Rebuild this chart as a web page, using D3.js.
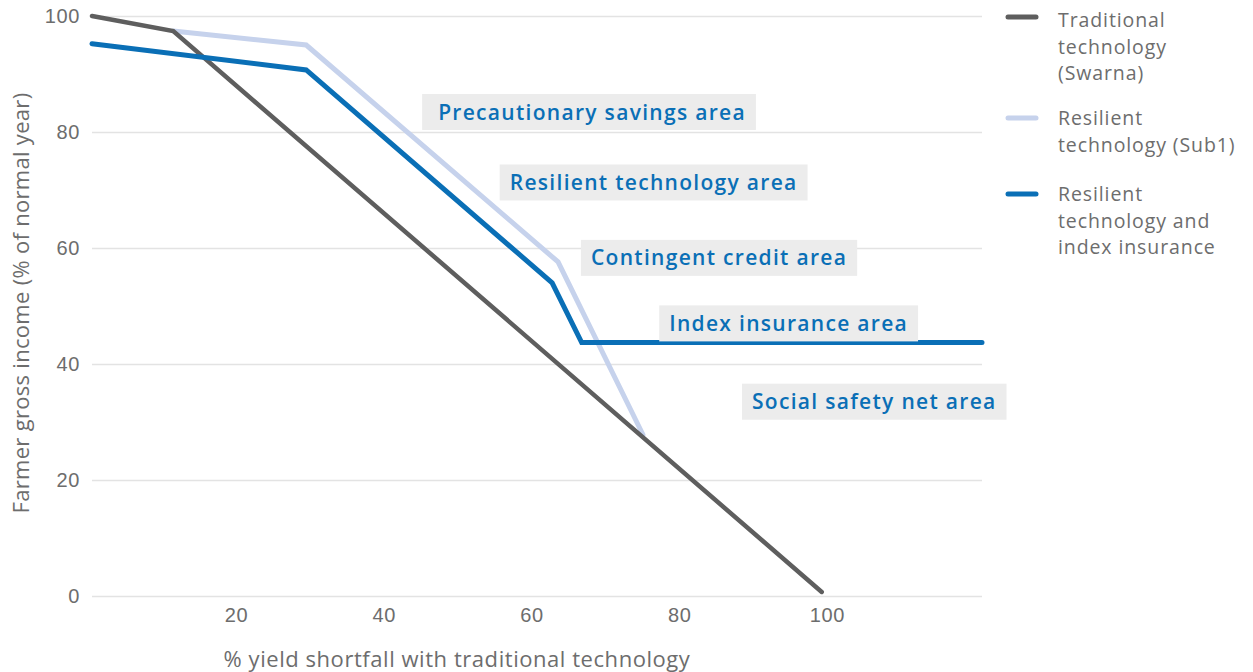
<!DOCTYPE html>
<html>
<head>
<meta charset="utf-8">
<script src="https://cdn.jsdelivr.net/npm/d3@7"></script>
<style>
  body { margin: 0; background: #fff; }
  svg { display: block; font-family: "Open Sans", sans-serif; }
</style>
</head>
<body>
<svg id="chart" width="1253" height="672"></svg>
<script>
// ---- data ----
const xTicks = [20, 40, 60, 80, 100];
const yTicks = [0, 20, 40, 60, 80, 100];

const traditionalX = [0.5, 11.5, 99.3];
const traditionalY = [100, 97.4, 0.7];

const sub1X = [11.5, 29.5, 63.6, 75.1];
const sub1Y = [97.4, 95.0, 57.6, 27.8];

const insuranceX = [0.5, 29.5, 62.8, 66.8, 121];
const insuranceY = [95.2, 90.7, 54.0, 43.7, 43.7];

const seriesNames = ["Traditional technology (Swarna)", "Resilient technology (Sub1)", "Resilient technology and index insurance"];
const legendLines = [["Traditional", "technology", "(Swarna)"], ["Resilient", "technology (Sub1)"], ["Resilient", "technology and", "index insurance"]];

const areaLabels = ["Precautionary savings area", "Resilient technology area", "Contingent credit area", "Index insurance area", "Social safety net area"];
const areaLabelX = [45.2, 55.7, 66.7, 77.3, 88.5];   // label box left (data units)
const areaLabelY = [83.45, 71.3, 58.3, 47.0, 33.5];  // label center (data units)

const xTitle = "% yield shortfall with traditional technology";
const yTitle = "Farmer gross income (% of normal year)";

// ---- layout ----
const svg = d3.select("#chart");
const x = d3.scaleLinear().domain([0.5, 121]).range([92, 982]);
const y = d3.scaleLinear().domain([0, 100]).range([596, 16]);

const gray = "#6d6d6d";
const colors = ["#5e5e5e", "#c6d2ec", "#0a6fb6"];
const widths = [4.5, 5, 5];

// gridlines + y ticks
svg.append("g")
  .attr("transform", "translate(92,0)")
  .call(d3.axisLeft(y).tickValues(yTicks).tickSize(-(982 - 92)).tickFormat(d3.format("d")))
  .call(g => g.select(".domain").remove())
  .call(g => g.selectAll(".tick line").attr("stroke", "#e3e3e3").attr("stroke-width", 1.5))
  .call(g => g.selectAll(".tick text").attr("x", -12).attr("fill", gray).attr("font-size", 20).attr("letter-spacing", 0.6));

// x ticks
svg.append("g")
  .attr("transform", "translate(0,596)")
  .call(d3.axisBottom(x).tickValues(xTicks).tickSize(0).tickFormat(d3.format("d")))
  .call(g => g.select(".domain").remove())
  .call(g => g.selectAll(".tick text").attr("y", 12).attr("dy", "0.71em").attr("fill", gray).attr("font-size", 20).attr("letter-spacing", 0.6));

// axis titles
svg.append("text")
  .attr("x", 457).attr("y", 667)
  .attr("text-anchor", "middle")
  .attr("fill", gray).attr("font-size", 22).attr("letter-spacing", 0.55)
  .text(xTitle);

svg.append("text")
  .attr("transform", "translate(29,303) rotate(-90)")
  .attr("text-anchor", "middle")
  .attr("fill", gray).attr("font-size", 22).attr("letter-spacing", 0.3)
  .text(yTitle);

// lines
const line = d3.line().x(d => x(d[0])).y(d => y(d[1]));
const series = [
  d3.zip(traditionalX, traditionalY),
  d3.zip(sub1X, sub1Y),
  d3.zip(insuranceX, insuranceY)
];
[1, 0, 2].forEach(i => {
  svg.append("path")
    .datum(series[i])
    .attr("fill", "none")
    .attr("stroke", colors[i])
    .attr("stroke-width", widths[i])
    .attr("stroke-linejoin", "miter")
    .attr("stroke-linecap", "round")
    .attr("d", line);
});

// area labels
const labG = svg.append("g");
const padLeft = i => (i === 0 ? 16 : 10);
areaLabels.forEach((t, i) => {
  const g = labG.append("g");
  const left = x(areaLabelX[i]);
  const txt = g.append("text")
    .attr("x", left + padLeft(i))
    .attr("y", y(areaLabelY[i]))
    .attr("dy", "0.36em")
    .attr("fill", "#0a6fb6")
    .attr("font-size", 21)
    .attr("font-weight", 600)
    .attr("letter-spacing", 1.3)
    .text(t);
  const bb = txt.node().getBBox();
  g.insert("rect", "text")
    .attr("x", left).attr("y", y(areaLabelY[i]) - 18)
    .attr("width", bb.x + bb.width - left + 10).attr("height", 36)
    .attr("fill", "#ececec");
});

// legend
const legendTop = [17, 118, 194];
legendLines.forEach((lines, i) => {
  svg.append("line")
    .attr("x1", 1008).attr("x2", 1036)
    .attr("y1", legendTop[i]).attr("y2", legendTop[i])
    .attr("stroke", colors[i]).attr("stroke-width", 5).attr("stroke-linecap", "round");
  const t = svg.append("text")
    .attr("x", 1058).attr("y", legendTop[i] + 10 - (i === 0 ? 0 : 3))
    .attr("fill", gray).attr("font-size", 19.5).attr("letter-spacing", 0.9);
  lines.forEach((l, j) => {
    t.append("tspan").attr("x", 1058).attr("dy", j === 0 ? 0 : 26.5).text(l);
  });
});
</script>
</body>
</html>
